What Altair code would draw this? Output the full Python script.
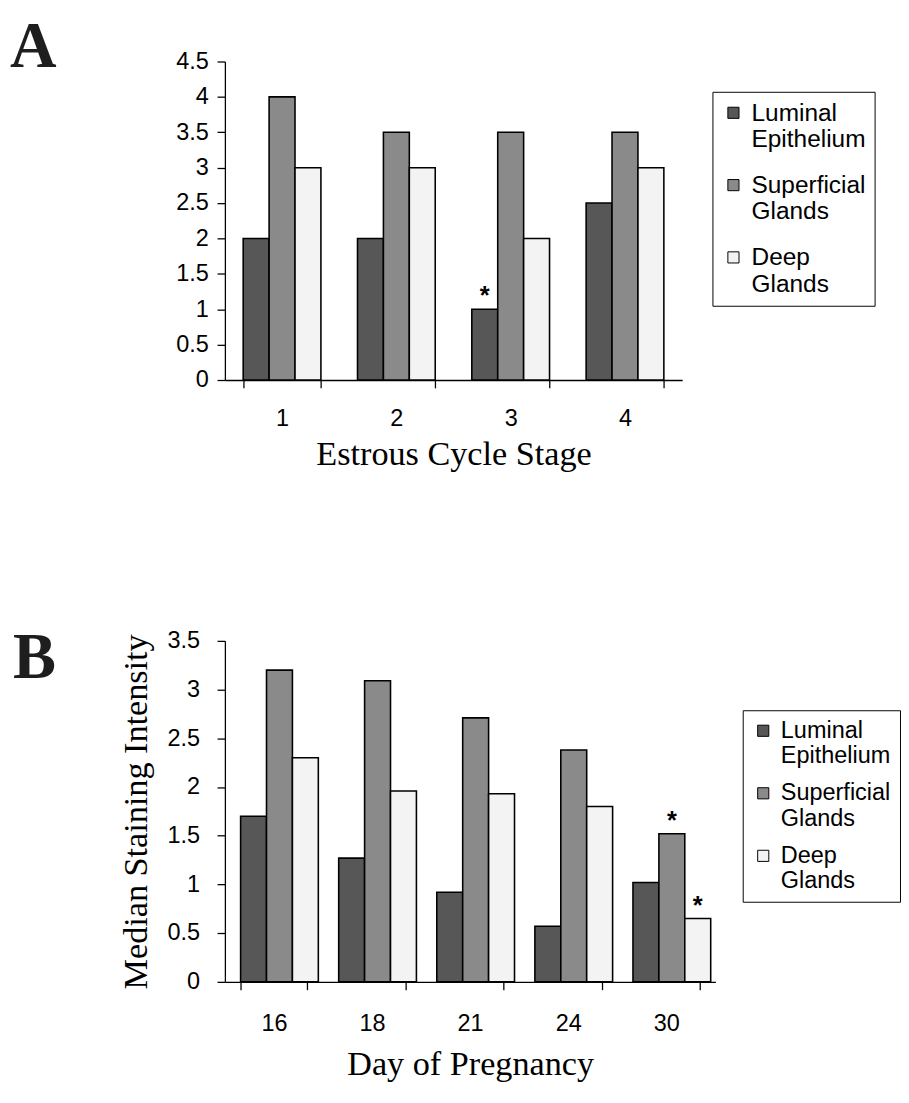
import altair as alt
import pandas as pd

# ---------------- data ----------------
series = ["Luminal Epithelium", "Superficial Glands", "Deep Glands"]
series_colors = ["#575757", "#8a8a8a", "#f3f3f3"]

stages = ["1", "2", "3", "4"]
a_luminal = [2.0, 2.0, 1.0, 2.5]
a_superficial = [4.0, 3.5, 3.5, 3.5]
a_deep = [3.0, 3.0, 2.0, 3.0]
a_star_luminal = ["", "", "*", ""]
a_star_superficial = ["", "", "", ""]
a_star_deep = ["", "", "", ""]

days = ["16", "18", "21", "24", "30"]
b_luminal = [1.7, 1.27, 0.92, 0.57, 1.02]
b_superficial = [3.2, 3.09, 2.71, 2.38, 1.52]
b_deep = [2.3, 1.96, 1.93, 1.8, 0.65]
b_star_luminal = ["", "", "", "", ""]
b_star_superficial = ["", "", "", "", "*"]
b_star_deep = ["", "", "", "", "*"]


def make_df(cats, vals, stars):
    rows = []
    for s, v_list, st_list in zip(series, vals, stars):
        for c, v, st in zip(cats, v_list, st_list):
            rows.append({"cat": c, "series": s, "value": v, "star": st})
    return pd.DataFrame(rows)


df_a = make_df(stages, [a_luminal, a_superficial, a_deep],
               [a_star_luminal, a_star_superficial, a_star_deep])
df_b = make_df(days, [b_luminal, b_superficial, b_deep],
               [b_star_luminal, b_star_superficial, b_star_deep])

SANS = "Liberation Sans"
SERIF = "Liberation Serif"


def panel(df, cats, ymax, w, h, xtitle, ytitle, letter, letter_dx, letter_dy,
          lx, ly, row_pad, xlabel_pad, xtitle_pad, ylabel_pad, legend_font):
    x = alt.X("cat:N", sort=cats,
              scale=alt.Scale(paddingInner=0.32, paddingOuter=0.16),
              axis=alt.Axis(title=xtitle, labelAngle=0, tickBand="extent",
                            labelFont=SANS, labelFontSize=24, labelColor="black",
                            labelPadding=xlabel_pad,
                            titleFont=SERIF, titleFontSize=35, titleFontWeight="normal",
                            titleColor="black", titlePadding=xtitle_pad,
                            domainColor="black", tickColor="black", tickSize=8))
    xo = alt.XOffset("series:N", sort=series,
                     scale=alt.Scale(paddingInner=0, paddingOuter=0))
    yaxis_kw = dict(values=[v / 2 for v in range(0, int(ymax * 2) + 1)],
                    labelFont=SANS, labelFontSize=24, labelColor="black",
                    grid=False, domainColor="black", tickColor="black", tickSize=8,
                    labelPadding=ylabel_pad, labelExpr="format(datum.value, '.1~f')")
    if ytitle:
        yaxis_kw.update(title=ytitle, titleFont=SERIF, titleFontSize=35,
                        titleFontWeight="normal", titleColor="black", titlePadding=14)
    else:
        yaxis_kw.update(title=None)
    y = alt.Y("value:Q", scale=alt.Scale(domain=[0, ymax], nice=False),
              axis=alt.Axis(**yaxis_kw))
    color = alt.Color("series:N", sort=series,
                      scale=alt.Scale(domain=series, range=series_colors),
                      legend=alt.Legend(title=None, orient="none", legendX=lx, legendY=ly,
                                        symbolType="square", symbolSize=130,
                                        symbolStrokeColor="black", symbolStrokeWidth=1,
                                        labelFont=SANS, labelFontSize=legend_font,
                                        labelColor="black",
                                        labelExpr="split(datum.label, ' ')",
                                        strokeColor="black", fillColor="white",
                                        padding=9, rowPadding=row_pad, labelOffset=6,
                                        labelLimit=300))
    base = alt.Chart(df)
    bars = base.mark_bar(stroke="black", strokeWidth=1.6).encode(
        x=x, xOffset=xo, y=y, color=color)
    stars = base.mark_text(dy=-13, font=SANS, fontSize=26, fontWeight="bold",
                           color="black").encode(x=x, xOffset=xo, y=y, text="star:N")
    return alt.layer(bars, stars).properties(
        width=w, height=h,
        title=alt.TitleParams(letter, anchor="start", frame="group", font=SERIF,
                              fontSize=66, fontWeight="bold", color="#1e1e1e",
                              dx=letter_dx, dy=letter_dy, offset=0))


chart_a = panel(df_a, stages, 4.5, 468, 326, "Estrous Cycle Stage", None, "A",
                -220, 32, 499, 31, 21, 20, 6, 9, 25)
chart_b = panel(df_b, days, 3.5, 502, 349, "Day of Pregnancy",
                "Median Staining Intensity", "B",
                -217, 64, 530, 71, 14, 23, 12, 18, 24)

chart = alt.vconcat(chart_a, chart_b, spacing=159).resolve_scale(
    color="independent", x="independent", y="independent"
).resolve_legend(color="independent").properties(
    padding={"left": 2, "top": -5, "right": 0, "bottom": 0}
).configure_view(stroke=None).configure_axis(domainWidth=1.3, tickWidth=1.3)

chart.save("out.html", embed_options={"renderer": "svg", "actions": False})
